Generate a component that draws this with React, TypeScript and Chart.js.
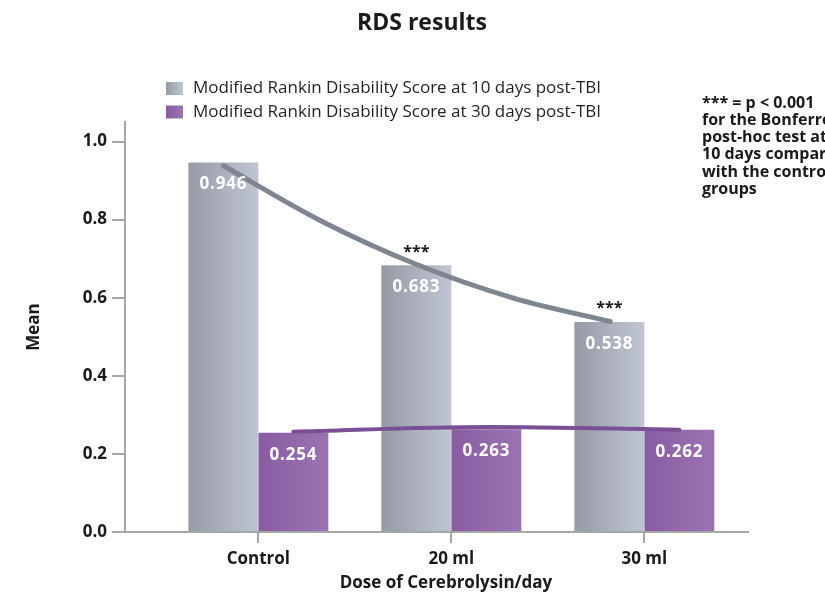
import { useEffect, useRef } from 'react';
import { Chart, registerables } from 'chart.js';

Chart.register(...registerables);

const categories = ['Control', '20 ml', '30 ml'];
const day10 = [0.946, 0.683, 0.538];
const day30 = [0.254, 0.263, 0.262];
// trend curves (x in category units, y in mean units)
const trend10X = [-0.181, 0.32, 0.821, 1.322, 1.823];
const trend10Y = [0.938, 0.798, 0.685, 0.599, 0.539];
const trend30X = [0.181, 1.181, 2.181];
const trend30Y = [0.257, 0.269, 0.262];
const significance = ['', '***', '***'];
const seriesNames = [
  'Modified Rankin Disability Score at 10 days post-TBI',
  'Modified Rankin Disability Score at 30 days post-TBI',
];
const yTickValues = [0, 0.2, 0.4, 0.6, 0.8, 1.0];
const noteLines = ['*** = p < 0.001', 'for the Bonferroni', 'post-hoc test at', '10 days compared', 'with the control', 'groups'];
const chartTitle = 'RDS results';
const xTitle = 'Dose of Cerebrolysin/day';
const yTitle = 'Mean';

const FONT = '"Open Sans", sans-serif';
const GREY = ['#959ba5', '#c0c5d3'];
const PURPLE = ['#895ca2', '#9b73b3'];
const AXIS = '#a6a6a6';
const TEXT = '#1a1a1a';
const CAT_PCT = 0.725;

const decor = {
  id: 'decor',
  beforeDatasetsDraw(chart: any) {
    const ctx = chart.ctx;
    chart.data.datasets.forEach((ds: any, di: number) => {
      if (ds.type !== 'bar') return;
      const cols = ds.gradColors;
      chart.getDatasetMeta(di).data.forEach((el: any) => {
        const g = ctx.createLinearGradient(el.x - el.width / 2, 0, el.x + el.width / 2, 0);
        g.addColorStop(0, cols[0]);
        g.addColorStop(1, cols[1]);
        el.options.backgroundColor = g;
      });
    });
  },
  afterDatasetsDraw(chart: any) {
    const ctx = chart.ctx;
    ctx.save();
    ctx.textAlign = 'center';
    ctx.textBaseline = 'middle';
    chart.data.datasets.forEach((ds: any, di: number) => {
      if (ds.type !== 'bar') return;
      chart.getDatasetMeta(di).data.forEach((el: any, i: number) => {
        ctx.fillStyle = '#ffffff';
        ctx.font = `bold 17px ${FONT}`;
        (ctx as any).letterSpacing = '0.8px';
        ctx.fillText(ds.data[i].y.toFixed(3), el.x, el.y + 22);
        (ctx as any).letterSpacing = '0px';
        if (di === 0 && significance[i]) {
          ctx.fillStyle = TEXT;
          ctx.font = `bold 16px ${FONT}`;
          ctx.fillText(significance[i], el.x, el.y - 13);
        }
      });
    });
    ctx.restore();
  },
  afterDraw(chart: any) {
    const ctx = chart.ctx;
    ctx.save();
    ctx.fillStyle = TEXT;
    ctx.textAlign = 'center';
    ctx.textBaseline = 'middle';
    ctx.font = `bold 23px ${FONT}`;
    ctx.fillText(chartTitle, 422, 23);
    ctx.font = `bold 17px ${FONT}`;
    ctx.fillText(xTitle, 446, 583);
    ctx.save();
    ctx.translate(34, 327);
    ctx.rotate(-Math.PI / 2);
    ctx.fillText(yTitle, 0, 0);
    ctx.restore();
    const grads = [GREY, PURPLE];
    seriesNames.forEach((name, i) => {
      const y = 82 + i * 23.5;
      const g = ctx.createLinearGradient(166, 0, 183, 0);
      g.addColorStop(0, grads[i][0]);
      g.addColorStop(1, grads[i][1]);
      ctx.fillStyle = g;
      ctx.fillRect(166, y, 17, 13);
      ctx.fillStyle = '#231f20';
      ctx.textAlign = 'left';
      ctx.font = `17px ${FONT}`;
      ctx.fillText(name, 193, y + 6.5);
    });
    ctx.fillStyle = TEXT;
    ctx.font = `bold 16px ${FONT}`;
    noteLines.forEach((line, i) => {
      ctx.fillText(line, 702, 103 + i * 17.3);
    });
    ctx.restore();
  },
};

export default function App() {
  const ref = useRef<HTMLCanvasElement>(null);
  useEffect(() => {
    const canvas = ref.current!;
    const chart = new Chart(canvas, {
      type: 'bar',
      data: {
        datasets: [
          {
            type: 'bar',
            label: seriesNames[0],
            data: day10.map((y, i) => ({ x: i, y })),
            backgroundColor: () => GREY[0],
            gradColors: GREY,
            categoryPercentage: CAT_PCT,
            barPercentage: 1,
            order: 2,
          } as any,
          {
            type: 'bar',
            label: seriesNames[1],
            data: day30.map((y, i) => ({ x: i, y })),
            backgroundColor: () => PURPLE[0],
            gradColors: PURPLE,
            categoryPercentage: CAT_PCT,
            barPercentage: 1,
            order: 2,
          } as any,
          {
            type: 'line',
            label: 'trend10',
            data: trend10X.map((x, i) => ({ x, y: trend10Y[i] })),
            borderColor: '#80868f',
            borderWidth: 5,
            borderCapStyle: 'round',
            pointRadius: 0,
            cubicInterpolationMode: 'monotone',
            fill: false,
            order: 1,
          } as any,
          {
            type: 'line',
            label: 'trend30',
            data: trend30X.map((x, i) => ({ x, y: trend30Y[i] })),
            borderColor: '#7a4f96',
            borderWidth: 4,
            borderCapStyle: 'round',
            pointRadius: 0,
            cubicInterpolationMode: 'monotone',
            fill: false,
            order: 1,
          } as any,
        ],
      },
      options: {
        responsive: false,
        animation: false,
        events: [],
        layout: { padding: { left: 0, top: 122, right: 77, bottom: 0 } },
        plugins: { legend: { display: false }, title: { display: false }, tooltip: { enabled: false } },
        scales: {
          x: {
            type: 'linear',
            offset: false,
            min: -0.691,
            max: 2.537,
            afterBuildTicks: (s: any) => {
              s.ticks = categories.map((_, i) => ({ value: i }));
            },
            afterFit: (s: any) => {
              s.height = 67;
            },
            ticks: {
              callback: (v: any) => categories[v],
              font: { family: FONT, weight: 'bold', size: 17 },
              color: TEXT,
              padding: 6,
              maxRotation: 0,
            },
            grid: { offset: false, drawOnChartArea: false, drawTicks: true, tickLength: 11, color: AXIS, lineWidth: 2 },
            border: { color: AXIS, width: 2 },
          },
          y: {
            type: 'linear',
            min: 0,
            max: 1.05,
            afterBuildTicks: (s: any) => {
              s.ticks = yTickValues.map((v) => ({ value: v }));
            },
            afterFit: (s: any) => {
              s.width = 125;
            },
            ticks: {
              callback: (v: any) => Number(v).toFixed(1),
              font: { family: FONT, weight: 'bold', size: 17 },
              color: TEXT,
              padding: 5,
            },
            grid: { drawOnChartArea: false, drawTicks: true, tickLength: 13, color: AXIS, lineWidth: 2 },
            border: { color: AXIS, width: 2 },
          },
        },
      } as any,
      plugins: [decor],
    });
    return () => chart.destroy();
  }, []);
  return (
    <div style={{ position: 'fixed', left: 0, top: 0, width: 825, height: 599, background: '#fff' }}>
      <canvas ref={ref} width={825} height={599} style={{ display: 'block' }} />
    </div>
  );
}
